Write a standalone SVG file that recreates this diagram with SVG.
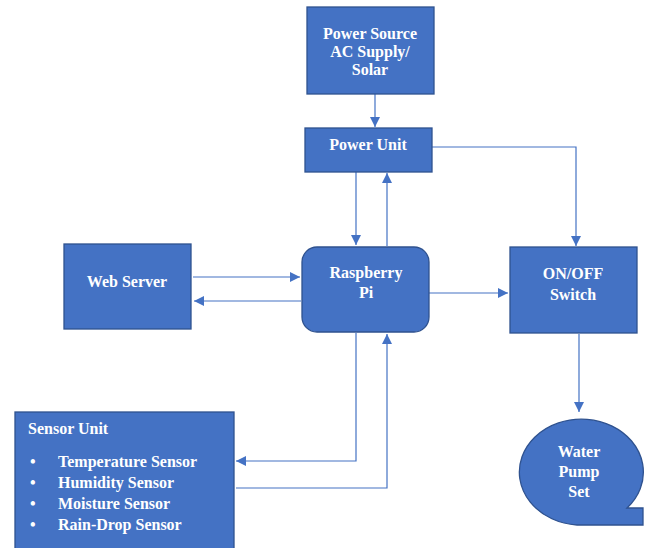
<svg xmlns="http://www.w3.org/2000/svg" width="648" height="548" viewBox="0 0 648 548">
<style>
.n{fill:#4472C4;stroke:#2F528F;stroke-width:1.3}
.t{font-family:'Liberation Serif','Times New Roman',Tinos,serif;font-weight:bold;font-size:16px;fill:#fff}
.c{text-anchor:middle}
.l{fill:none;stroke:#4472C4;stroke-width:1.2}
</style>
<defs>
<marker id="a" viewBox="0 0 10 10" refX="10" refY="5" markerWidth="10" markerHeight="10" markerUnits="userSpaceOnUse" orient="auto">
<path d="M0,0 L10,5 L0,10 z" fill="#4472C4"/>
</marker>
</defs>
<rect width="648" height="548" fill="#fff"/>
<g id="connectors">
<path class="l" d="M375,94 V127" marker-end="url(#a)"/>
<path class="l" d="M432,147 H576 V246" marker-end="url(#a)"/>
<path class="l" d="M356,172 V245" marker-end="url(#a)"/>
<path class="l" d="M387,246 V173" marker-end="url(#a)"/>
<path class="l" d="M193,277 H300" marker-end="url(#a)"/>
<path class="l" d="M301,301 H194" marker-end="url(#a)"/>
<path class="l" d="M429,293 H508" marker-end="url(#a)"/>
<path class="l" d="M579,334 V412" marker-end="url(#a)"/>
<path class="l" d="M356,333 V461 H236" marker-end="url(#a)"/>
<path class="l" d="M236,488 H387 V334" marker-end="url(#a)"/>
</g>
<g id="power-source">
<rect class="n" x="307" y="7" width="127" height="87"/>
<text class="t c" x="370" y="39" font-family="Liberation Serif, serif">Power Source</text>
<text class="t c" x="370" y="57">AC Supply/</text>
<text class="t c" x="370" y="75">Solar</text>
</g>
<g id="power-unit">
<rect class="n" x="305" y="128" width="127" height="44"/>
<text class="t c" x="368" y="150">Power Unit</text>
</g>
<g id="web-server">
<rect class="n" x="64" y="244" width="127" height="85"/>
<text class="t c" x="127" y="287">Web Server</text>
</g>
<g id="raspberry-pi">
<rect class="n" x="302" y="247" width="127" height="85" rx="15"/>
<text class="t c" x="366" y="278">Raspberry</text>
<text class="t c" x="366" y="298">Pi</text>
</g>
<g id="on-off-switch">
<rect class="n" x="510" y="247" width="127" height="86"/>
<text class="t c" x="573" y="279">ON/OFF</text>
<text class="t c" x="573" y="300">Switch</text>
</g>
<g id="water-pump">
<path class="n" d="M577,525 A62,53 0 1 1 627,508 H643 V525 Z"/>
<text class="t c" x="579" y="457">Water</text>
<text class="t c" x="579" y="477">Pump</text>
<text class="t c" x="579" y="497">Set</text>
</g>
<g id="sensor-unit">
<rect class="n" x="15" y="412" width="219" height="140"/>
<text class="t" x="28" y="434">Sensor Unit</text>
<text class="t" x="30" y="467">•</text>
<text class="t" x="58" y="467">Temperature Sensor</text>
<text class="t" x="30" y="488">•</text>
<text class="t" x="58" y="488">Humidity Sensor</text>
<text class="t" x="30" y="509">•</text>
<text class="t" x="58" y="509">Moisture Sensor</text>
<text class="t" x="30" y="530">•</text>
<text class="t" x="58" y="530">Rain-Drop Sensor</text>
</g>
</svg>
